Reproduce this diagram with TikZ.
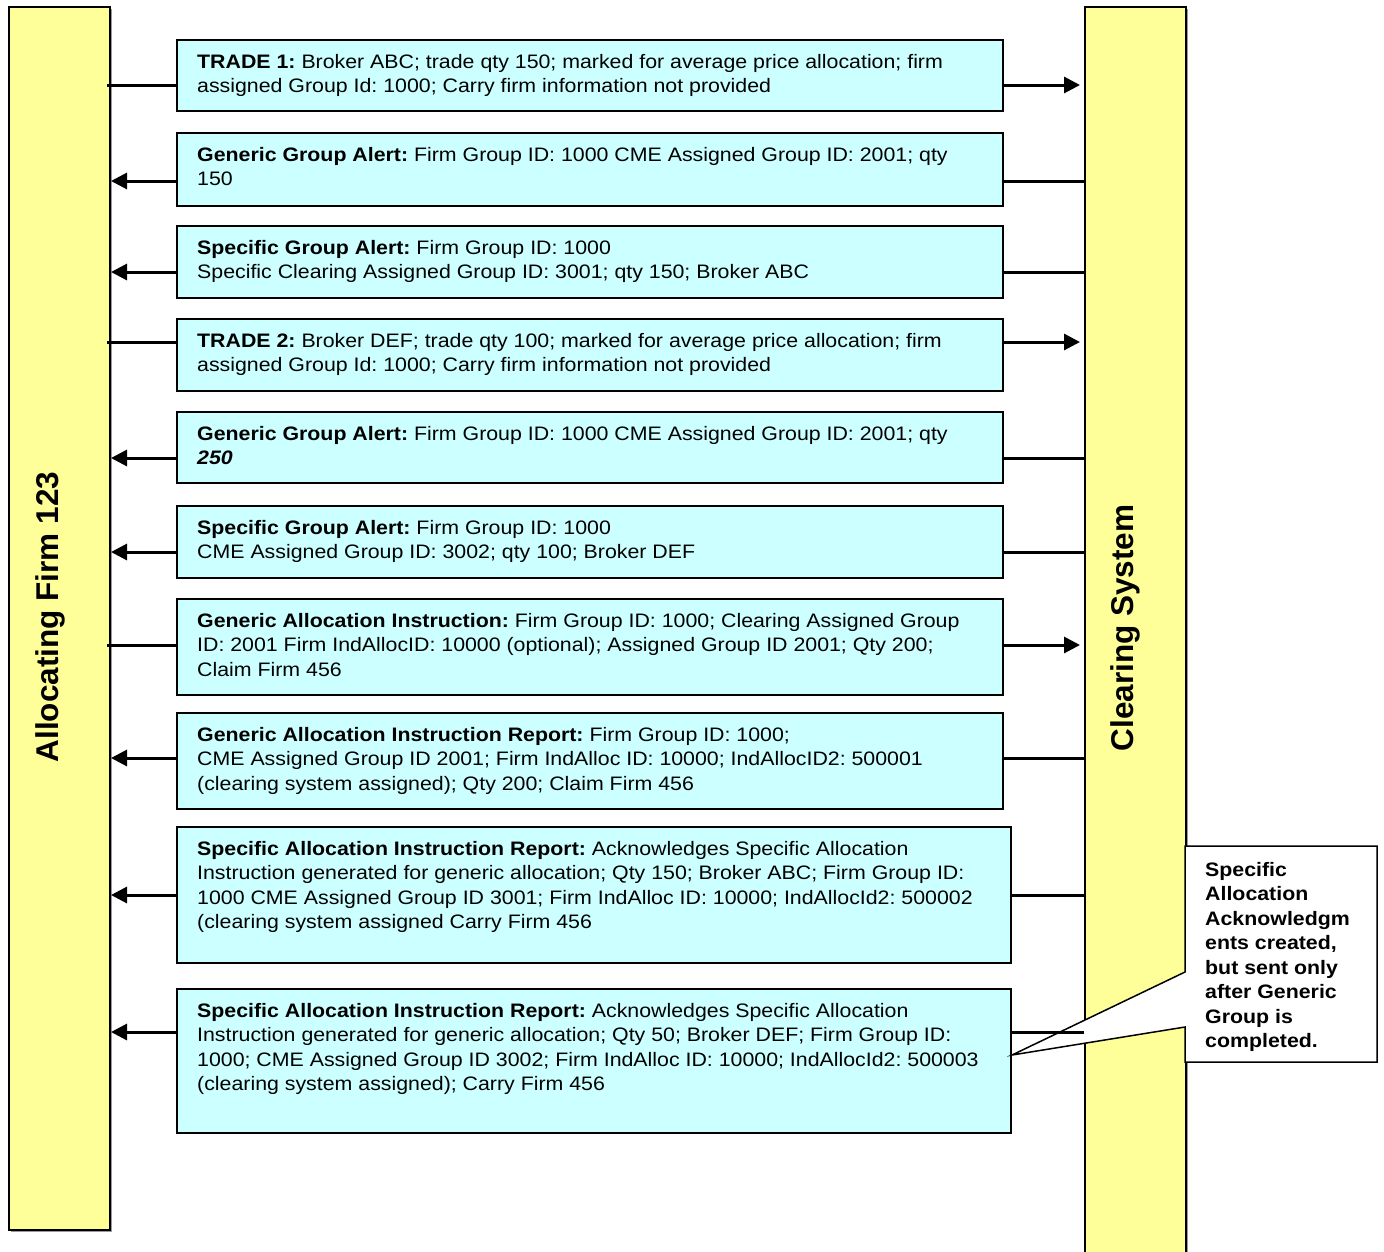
\documentclass[tikz,border=0pt]{standalone}
\usepackage{fontspec}
\setmainfont{Liberation Sans}
\newfontfamily\msgfont[FakeStretch=1.094]{Liberation Sans}
\usetikzlibrary{arrows.meta,shadows}
\definecolor{msgcyan}{HTML}{CCFFFF}
\definecolor{baryellow}{HTML}{FFFF99}
\tikzset{
  bar/.style={draw=black, line width=2pt, fill=baryellow, inner sep=0pt, anchor=north west,
    drop shadow={shadow xshift=1.5pt, shadow yshift=-1.5pt, fill=black!40, opacity=1}},
  msgbox/.style={draw=black, line width=1.6pt, fill=msgcyan, inner sep=0pt, anchor=north west,
    drop shadow={shadow xshift=1.5pt, shadow yshift=-1.5pt, fill=black!40, opacity=1}},
  msgtext/.style={anchor=north west, inner sep=0pt, align=left,
    font=\msgfont\frenchspacing\fontsize{19.5}{24.5}\selectfont},
  conn/.style={line width=3pt},
  tip/.style={-{Triangle[length=16pt,width=16pt]}},
  barlabel/.style={rotate=90, font=\bfseries\fontsize{31.5}{36}\selectfont, inner sep=0pt},
}
\newcommand{\stz}{\rule{0pt}{15pt}}
\begin{document}
\begin{tikzpicture}[x=1pt,y=-1pt]
\useasboundingbox (0,0) rectangle (1384,1251);
% bars
\node[bar, minimum width=101pt, minimum height=1223pt] (L) at (8,6) {};
\node[bar, minimum width=101pt, minimum height=1270pt] (R) at (1084,6) {};
\node[barlabel] (Ltxt) at (50,617) {Allocating Firm 123};
\node[barlabel] (Rtxt) at (1125,628) {Clearing System};

% message boxes
\node[msgbox, minimum width=826pt, minimum height=71pt] (m1) at (176,39) {};
\node[msgbox, minimum width=826pt, minimum height=73pt] (m2) at (176,132) {};
\node[msgbox, minimum width=826pt, minimum height=72pt] (m3) at (176,225) {};
\node[msgbox, minimum width=826pt, minimum height=72pt] (m4) at (176,318) {};
\node[msgbox, minimum width=826pt, minimum height=71pt] (m5) at (176,411) {};
\node[msgbox, minimum width=826pt, minimum height=72pt] (m6) at (176,505) {};
\node[msgbox, minimum width=826pt, minimum height=96pt] (m7) at (176,598) {};
\node[msgbox, minimum width=826pt, minimum height=96pt] (m8) at (176,712) {};
\node[msgbox, minimum width=834pt, minimum height=136pt] (m9) at (176,826) {};
\node[msgbox, minimum width=834pt, minimum height=144pt] (m10) at (176,988) {};

% texts
\node[msgtext] (t1) at (197,53) {\stz\textbf{TRADE 1:} Broker ABC; trade qty 150; marked for average price allocation; firm\\assigned Group Id: 1000; Carry firm information not provided};
\node[msgtext] (t2) at (197,146) {\stz\textbf{Generic Group Alert:} Firm Group ID: 1000 CME Assigned Group ID: 2001; qty\\150};
\node[msgtext] (t3) at (197,239) {\stz\textbf{Specific Group Alert:} Firm Group ID: 1000\\Specific Clearing Assigned Group ID: 3001; qty 150; Broker ABC};
\node[msgtext] (t4) at (197,332) {\stz\textbf{TRADE 2:} Broker DEF; trade qty 100; marked for average price allocation; firm\\assigned Group Id: 1000; Carry firm information not provided};
\node[msgtext] (t5) at (197,425) {\stz\textbf{Generic Group Alert:} Firm Group ID: 1000 CME Assigned Group ID: 2001; qty\\\textbf{\textit{250}}};
\node[msgtext] (t6) at (197,519) {\stz\textbf{Specific Group Alert:} Firm Group ID: 1000\\CME Assigned Group ID: 3002; qty 100; Broker DEF};
\node[msgtext] (t7) at (197,612) {\stz\textbf{Generic Allocation Instruction:} Firm Group ID: 1000; Clearing Assigned Group\\ID: 2001 Firm IndAllocID: 10000 (optional); Assigned Group ID 2001; Qty 200;\\Claim Firm 456};
\node[msgtext] (t8) at (197,726) {\stz\textbf{Generic Allocation Instruction Report:} Firm Group ID: 1000;\\CME Assigned Group ID 2001; Firm IndAlloc ID: 10000; IndAllocID2: 500001\\(clearing system assigned); Qty 200; Claim Firm 456};
\node[msgtext] (t9) at (197,840) {\stz\textbf{Specific Allocation Instruction Report:} Acknowledges Specific Allocation\\Instruction generated for generic allocation; Qty 150; Broker ABC; Firm Group ID:\\1000 CME Assigned Group ID 3001; Firm IndAlloc ID: 10000; IndAllocId2: 500002\\(clearing system assigned Carry Firm 456};
\node[msgtext] (t10) at (197,1002) {\stz\textbf{Specific Allocation Instruction Report:} Acknowledges Specific Allocation\\Instruction generated for generic allocation; Qty 50; Broker DEF; Firm Group ID:\\1000; CME Assigned Group ID 3002; Firm IndAlloc ID: 10000; IndAllocId2: 500003\\(clearing system assigned); Carry Firm 456};

% callout
\coordinate (ctip) at (1012,1055);
\draw[line width=1.5pt, fill=white] (1185,846) -- (1377,846) -- (1377,1062) -- (1185,1062) -- (1185,1027) -- (ctip) -- (1185,972) -- cycle;
\node[msgtext, font=\msgfont\bfseries\frenchspacing\fontsize{19.5}{24.5}\selectfont] (note) at (1205,861) {\stz Specific\\Allocation\\Acknowledgm\\ents created,\\but sent only\\after Generic\\Group is\\completed.};

% arrow levels
\coordinate (a1) at (0,85);
\coordinate (a2) at (0,181);
\coordinate (a3) at (0,272);
\coordinate (a4) at (0,342);
\coordinate (a5) at (0,458);
\coordinate (a6) at (0,552);
\coordinate (a7) at (0,645);
\coordinate (a8) at (0,758);
\coordinate (a9) at (0,895);
\coordinate (a10) at (0,1032);

% rightward messages
\foreach \i in {1,4,7}{
  \draw[conn] ([xshift=-4pt]L.east |- a\i) -- (m\i.west |- a\i);
  \draw[conn, tip] (m\i.east |- a\i) -- ([xshift=-4pt]R.west |- a\i);
}
% leftward messages
\foreach \i in {2,3,5,6,8,9,10}{
  \draw[conn] (R.west |- a\i) -- (m\i.east |- a\i);
  \draw[conn, tip] (m\i.west |- a\i) -- (L.east |- a\i);
}
\end{tikzpicture}
\end{document}
